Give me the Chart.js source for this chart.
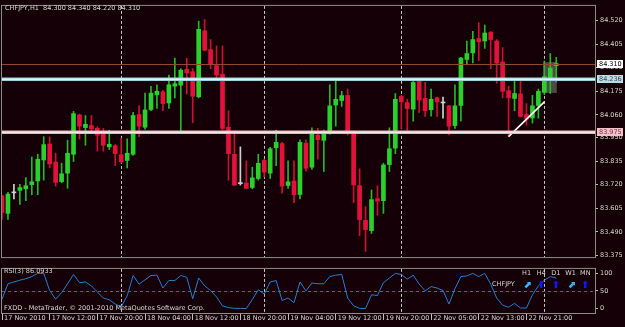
<!DOCTYPE html>
<html>
<head>
<meta charset="utf-8">
<title>CHFJPY,H1</title>
<script src="https://cdn.jsdelivr.net/npm/chart.js@4.4.0/dist/chart.umd.min.js"></script>
<style>
    html, body { margin: 0; padding: 0; background: #140006; }
    #wrap { position: relative; width: 625px; height: 327px; overflow: hidden; background: #140006; }
    #main { position: absolute; left: 0; top: 0; }
    #osc  { position: absolute; left: 0; top: 263px; }
</style>
</head>
<body>
<div id="wrap">
    <canvas id="main" width="625" height="263"></canvas>
    <canvas id="osc" width="625" height="64"></canvas>
</div>
<script>
const symbol = 'CHFJPY';
const period = 'H1';

// trading days on screen: day, first hour, last hour
const sessions = [
    ['17 Nov', 4, 23],
    ['18 Nov', 0, 23],
    ['19 Nov', 0, 22],
    ['22 Nov', 0, 23],
    ['23 Nov', 0, 2]
];

const opens = [
    83.665, 83.580, 83.680, 83.692, 83.700, 83.720, 83.738, 83.840, 83.918, 83.830,
    83.735, 83.776, 83.868, 84.060, 83.998, 84.008, 83.995, 83.968, 83.904, 83.910,
    83.866, 83.838, 83.868, 84.062, 84.000, 84.086, 84.158, 84.172, 84.118, 84.200,
    84.205, 84.282, 84.270, 84.148, 84.470, 84.378, 84.300, 84.258, 84.000, 83.868,
    83.725, 83.728, 83.706, 83.750, 83.838, 83.776, 83.900, 83.920, 83.716, 83.738,
    83.672, 83.922, 83.805, 83.962, 83.936, 83.968, 84.108, 84.130, 84.155, 83.970,
    83.715, 83.546, 83.496, 83.652, 83.642, 83.818, 83.898, 84.150, 84.120, 84.088,
    84.224, 84.140, 84.085, 84.143, 84.118, 84.104, 84.008, 84.106, 84.330, 84.362,
    84.432, 84.420, 84.462, 84.420, 84.318, 84.178, 84.140, 84.162, 84.062, 84.045,
    84.106, 84.170, 84.240, 84.300
];
const highs = [
    83.669, 83.683, 83.721, 83.721, 83.754, 83.855, 83.868, 83.954, 83.953, 83.873,
    83.825, 83.937, 84.077, 84.064, 84.057, 84.057, 84.002, 83.994, 83.985, 83.915,
    83.947, 83.943, 84.072, 84.104, 84.166, 84.199, 84.207, 84.180, 84.254, 84.337,
    84.285, 84.336, 84.285, 84.517, 84.525, 84.427, 84.396, 84.396, 84.080, 83.967,
    83.904, 83.836, 83.805, 83.868, 83.844, 83.902, 83.986, 83.926, 83.836, 83.836,
    83.939, 83.939, 83.997, 83.994, 83.986, 84.207, 84.238, 84.175, 84.186, 83.978,
    83.797, 83.613, 83.694, 83.715, 83.825, 83.997, 84.164, 84.155, 84.136, 84.226,
    84.233, 84.218, 84.186, 84.147, 84.147, 84.106, 84.207, 84.340, 84.419, 84.467,
    84.509, 84.498, 84.467, 84.427, 84.388, 84.199, 84.227, 84.230, 84.115, 84.155,
    84.186, 84.322, 84.359, 84.340
];
const lows = [
    83.551, 83.551, 83.650, 83.624, 83.642, 83.671, 83.671, 83.742, 83.802, 83.713,
    83.729, 83.702, 83.833, 83.942, 83.912, 83.970, 83.883, 83.883, 83.891, 83.813,
    83.826, 83.802, 83.862, 83.954, 83.990, 84.080, 84.091, 84.080, 84.091, 84.143,
    83.975, 84.162, 84.022, 84.143, 84.372, 84.285, 84.226, 83.986, 83.742, 83.715,
    83.718, 83.700, 83.700, 83.742, 83.758, 83.750, 83.813, 83.679, 83.702, 83.632,
    83.650, 83.786, 83.794, 83.844, 83.784, 83.966, 84.005, 84.101, 83.962, 83.632,
    83.471, 83.395, 83.482, 83.571, 83.580, 83.784, 83.871, 83.994, 83.973, 84.029,
    84.072, 84.052, 84.054, 84.052, 84.044, 83.962, 83.994, 84.029, 84.304, 84.313,
    84.325, 84.384, 84.285, 84.214, 84.143, 83.954, 84.080, 84.050, 84.010, 84.020,
    84.044, 84.159, 84.164, 84.220
];
const closes = [
    83.584, 83.674, 83.680, 83.706, 83.715, 83.734, 83.844, 83.915, 83.821, 83.731,
    83.773, 83.873, 84.066, 84.005, 84.014, 83.992, 83.961, 83.912, 83.917, 83.871,
    83.831, 83.873, 84.057, 84.005, 84.084, 84.166, 84.175, 84.115, 84.207, 84.212,
    84.278, 84.265, 84.151, 84.477, 84.375, 84.304, 84.254, 83.994, 83.871, 83.718,
    83.725, 83.702, 83.753, 83.824, 83.781, 83.895, 83.926, 83.713, 83.734, 83.671,
    83.926, 83.800, 83.967, 83.939, 83.967, 84.104, 84.136, 84.154, 83.973, 83.718,
    83.550, 83.501, 83.647, 83.640, 83.816, 83.895, 84.136, 84.123, 84.091, 84.218,
    84.132, 84.080, 84.136, 84.123, 84.118, 84.005, 84.104, 84.337, 84.359, 84.427,
    84.416, 84.459, 84.427, 84.312, 84.175, 84.143, 84.164, 84.052, 84.040, 84.104,
    84.175, 84.246, 84.288, 84.310
];

// RSI(3) per bar
const rsi = [
    27, 70, 75, 80, 84, 90, 99, 99, 51, 27,
    45, 70, 96, 73, 75, 64, 47, 30, 25, 13,
    5, 36, 93, 69, 81, 93, 94, 58, 79, 79,
    93, 88, 28, 86, 64, 51, 33, 8, 3, 1,
    1, 0.5, 26, 53, 41, 75, 79, 23, 30, 17,
    75, 50, 72, 70, 70, 90, 94, 96, 30, 8,
    1, 0.5, 39, 37, 73, 86, 99, 96, 83, 94,
    69, 50, 62, 58, 51, 13, 56, 90, 92, 99,
    90, 99, 69, 30, 10, 4, 15, 2, 2, 39,
    64, 80, 90, 86.0933
];

const timeLabels = [
    '17 Nov 2010', '17 Nov 12:00', '17 Nov 20:00', '18 Nov 04:00',
    '18 Nov 12:00', '18 Nov 20:00', '19 Nov 04:00', '19 Nov 12:00',
    '19 Nov 20:00', '22 Nov 05:00', '22 Nov 13:00', '22 Nov 21:00'
];
const labelStep = 8;

const priceTicks = ['84.520', '84.405', '84.290', '84.175', '84.060', '83.950',
                    '83.835', '83.720', '83.605', '83.490', '83.375'];
const rsiTicks = [100, 50, 0];
const rsiLevel = 50;

// objects on the chart
const hLevels   = [84.236, 83.975];
const trendLine = [{x: 85, y: 83.954}, {x: 91, y: 84.123}];
const zone      = {from: 91, to: 93, high: 84.317, low: 84.167};

const tfNames   = ['H1', 'H4', 'D1', 'W1', 'MN'];
const tfSignals = ['upright', 'up', 'up', 'upright', 'up'];

// ---------------------------------------------------------------

const FONT = '"DejaVu Sans", sans-serif';
Chart.defaults.font.family = FONT;
Chart.defaults.font.size = 6.5;

const TXT = '#d6d6d6';
const GREEN = '#2bd02b', RED = '#e4123a', DOJI = '#d0d0d0';
const WICK_G = '#27b827', WICK_R = '#cc1233';
const lastBar = closes.length - 1;
const xMax = 99.5;

// first bar of every new day
const separators = [];
let n = 0;
sessions.forEach((s, k) => {
    if (k > 0) separators.push(n);
    n += s[2] - s[1] + 1;
});

const dir = closes.map((c, i) => c > opens[i] ? 1 : (c < opens[i] ? -1 : 0));
const bodyColors = dir.map(d => d > 0 ? GREEN : (d < 0 ? RED : DOJI));
const wickColors = dir.map(d => d > 0 ? WICK_G : (d < 0 ? WICK_R : DOJI));

const drawSeparators = (ctx, x, a) => {
    ctx.save();
    ctx.strokeStyle = '#c4c4c4';
    ctx.lineWidth = 1;
    ctx.setLineDash([3, 2]);
    separators.forEach((i) => {
        const px = Math.round(x.getPixelForValue(i)) + 0.5;
        ctx.beginPath();
        ctx.moveTo(px, a.top);
        ctx.lineTo(px, a.bottom);
        ctx.stroke();
    });
    ctx.restore();
};

const drawFrame = (ctx, a) => {
    ctx.save();
    ctx.strokeStyle = '#8c8c8c';
    ctx.lineWidth = 1;
    ctx.strokeRect(a.left - 0.5, a.top - 0.5, a.right - a.left + 1, a.bottom - a.top + 1);
    ctx.restore();
};

const mainDecor = {
    id: 'mainDecor',
    beforeDatasetsDraw(chart) {
        const {ctx, chartArea: a, scales: {x, y}} = chart;
        ctx.save();
        const x1 = x.getPixelForValue(zone.from) - 1;
        const x2 = x.getPixelForValue(zone.to) + 0.5;
        const y1 = y.getPixelForValue(zone.high);
        const y2 = y.getPixelForValue(zone.low);
        ctx.fillStyle = 'rgba(118,118,118,0.6)';
        ctx.fillRect(x1, y1, x2 - x1, y2 - y1);
        ctx.restore();
        drawSeparators(ctx, x, a);
    },
    afterDatasetsDraw(chart) {
        const {ctx, chartArea: a, scales: {y}} = chart;
        ctx.save();
        const w = a.right - a.left;
        // bid line
        const pb = Math.round(y.getPixelForValue(closes[lastBar])) + 0.5;
        ctx.strokeStyle = '#8e4a2c';
        ctx.lineWidth = 1;
        ctx.beginPath();
        ctx.moveTo(a.left, pb);
        ctx.lineTo(a.right, pb);
        ctx.stroke();
        // horizontal levels
        const styles = [['#9fcfdc', '#dff3f7'], ['#eab2bf', '#ffe2e8']];
        hLevels.forEach((v, k) => {
            const p = Math.round(y.getPixelForValue(v));
            ctx.fillStyle = styles[k][0];
            ctx.fillRect(a.left, p - 1.5, w, 3.5);
            ctx.fillStyle = styles[k][1];
            ctx.fillRect(a.left, p - 0.5, w, 1.5);
        });
        ctx.restore();
    },
    afterDraw(chart) {
        const {ctx, chartArea: a, scales: {y}} = chart;
        drawFrame(ctx, a);
        ctx.save();
        ctx.font = '6.5px ' + FONT;
        ctx.textBaseline = 'middle';
        ctx.textAlign = 'left';
        ctx.fillStyle = TXT;
        const fmt = (v) => v.toFixed(3);
        const title = `${symbol},${period}  ${fmt(opens[lastBar])} ${fmt(highs[lastBar])} ${fmt(lows[lastBar])} ${fmt(closes[lastBar])}`;
        ctx.fillText(title, 5, 8);

        const boxes = [
            [closes[lastBar], '#ffffff', '#000000'],
            [hLevels[0], '#b8dfe8', '#3c4850'],
            [hLevels[1], '#f6c0cb', '#6a3440']
        ];
        boxes.forEach(([v, bg, fg]) => {
            const p = Math.round(y.getPixelForValue(v));
            ctx.fillStyle = bg;
            ctx.fillRect(a.right + 2, p - 4, 26, 8);
            ctx.fillStyle = fg;
            ctx.fillText(fmt(v), a.right + 4, p + 0.5);
        });
        ctx.restore();
    }
};

new Chart(document.getElementById('main'), {
    type: 'bar',
    data: {
        datasets: [
            {
                type: 'line',
                data: trendLine,
                borderColor: '#ffffff',
                borderWidth: 1.6,
                pointRadius: 0,
                order: 0
            },
            {
                data: opens.map((o, i) => ({x: i, y: [o, closes[i]]})),
                backgroundColor: bodyColors,
                barThickness: 4,
                minBarLength: 1,
                grouped: false,
                order: 1
            },
            {
                data: lows.map((l, i) => ({x: i, y: [l, highs[i]]})),
                backgroundColor: wickColors,
                barThickness: 1,
                grouped: false,
                order: 2
            }
        ]
    },
    options: {
        responsive: false,
        animation: false,
        layout: { padding: { left: 2, top: 2, right: 0, bottom: 2 } },
        plugins: { legend: { display: false }, tooltip: { enabled: false } },
        scales: {
            x: { type: 'linear', min: 0, max: xMax, offset: false, display: false },
            y: {
                position: 'right',
                min: 83.367,
                max: 84.591,
                afterFit: (s) => { s.width = 30; },
                afterBuildTicks: (s) => { s.ticks = priceTicks.map(t => ({value: parseFloat(t)})); },
                ticks: {
                    callback: (v, i) => priceTicks[i],
                    color: TXT,
                    padding: 2,
                    autoSkip: false
                },
                grid: { drawOnChartArea: false, drawTicks: true, tickLength: 3, color: '#bdbdbd' },
                border: { display: true, color: '#c8c8c8' }
            }
        }
    },
    plugins: [mainDecor]
});

const oscDecor = {
    id: 'oscDecor',
    beforeDatasetsDraw(chart) {
        const {ctx, chartArea: a, scales: {x, y}} = chart;
        drawSeparators(ctx, x, a);
        ctx.save();
        const p = Math.round(y.getPixelForValue(rsiLevel)) + 0.5;
        ctx.strokeStyle = '#c41ec4';
        ctx.lineWidth = 1;
        ctx.setLineDash([3, 3]);
        ctx.beginPath();
        ctx.moveTo(a.left, p);
        ctx.lineTo(a.right, p);
        ctx.stroke();
        ctx.restore();
    },
    afterDraw(chart) {
        const {ctx, chartArea: a} = chart;
        drawFrame(ctx, a);
        ctx.save();
        ctx.font = '6.5px ' + FONT;
        ctx.textBaseline = 'middle';
        ctx.textAlign = 'left';
        ctx.fillStyle = TXT;
        ctx.fillText('RSI(3) ' + rsi[lastBar].toFixed(4), 4, 8.7);
        ctx.fillText('FXDD - MetaTrader, \u00a9 2001-2010 MetaQuotes Software Corp.', 4, 45.3);
        ctx.fillText(symbol, 492, 21.3);

        ctx.textAlign = 'center';
        tfNames.forEach((t, k) => {
            const cx = a.right - 68.5 + k * 14.7;
            ctx.fillStyle = TXT;
            ctx.font = '6.5px ' + FONT;
            ctx.fillText(t, cx, 10.3);
            const up = tfSignals[k] === 'up';
            ctx.fillStyle = up ? '#1414ff' : '#38b6ff';
            ctx.font = 'bold 10px ' + FONT;
            ctx.fillText(up ? '\u2B06' : '\u2B08', cx + (up ? 0 : 1), 22.5);
        });
        ctx.restore();
    }
};

new Chart(document.getElementById('osc'), {
    type: 'line',
    data: {
        datasets: [{
            data: rsi.map((v, i) => ({x: i, y: v})),
            borderColor: '#2a7cd4',
            borderWidth: 1,
            pointRadius: 0,
            tension: 0
        }]
    },
    options: {
        responsive: false,
        animation: false,
        layout: { padding: { left: 2, top: 2, right: 0, bottom: 0 } },
        plugins: { legend: { display: false }, tooltip: { enabled: false } },
        scales: {
            x: {
                type: 'linear',
                min: 0,
                max: xMax,
                position: 'bottom',
                afterFit: (s) => { s.height = 14; },
                afterBuildTicks: (s) => { s.ticks = timeLabels.map((t, k) => ({value: k * labelStep})); },
                ticks: {
                    callback: (v, i) => ' ' + timeLabels[i],
                    align: 'start',
                    padding: -6,
                    color: TXT,
                    autoSkip: false,
                    maxRotation: 0,
                    minRotation: 0
                },
                grid: { drawOnChartArea: false, drawTicks: true, tickLength: 7, color: '#bdbdbd' },
                border: { display: true, color: '#9a9a9a' }
            },
            y: {
                position: 'right',
                min: -12,
                max: 111.6,
                afterFit: (s) => { s.width = 30; },
                afterBuildTicks: (s) => { s.ticks = rsiTicks.map(v => ({value: v})); },
                ticks: { color: TXT, padding: 2, autoSkip: false },
                grid: { drawOnChartArea: false, drawTicks: true, tickLength: 3, color: '#bdbdbd' },
                border: { display: true, color: '#c8c8c8' }
            }
        }
    },
    plugins: [oscDecor]
});
</script>
</body>
</html>
